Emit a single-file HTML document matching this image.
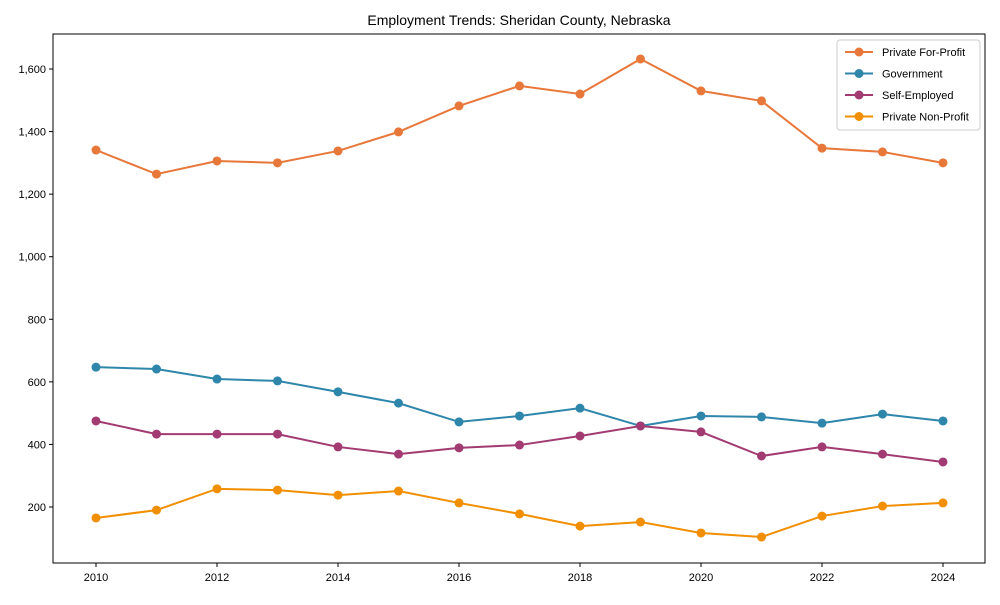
<!DOCTYPE html>
<html><head><meta charset="utf-8"><style>
body{margin:0;background:#fff;font-family:"Liberation Sans",Arial,sans-serif}
svg text{font-family:"Liberation Sans",Arial,sans-serif;fill:#000}
</style></head><body>
<svg id="chart" width="1000" height="600" xmlns="http://www.w3.org/2000/svg">
<text x="519" y="25" text-anchor="middle" font-size="14">Employment Trends: Sheridan County, Nebraska</text>
<rect x="53" y="34" width="932" height="529" fill="none" stroke="#000" stroke-width="1"/>
<g id="axes"></g><g id="series"></g><g id="legend"></g>
</svg>
<script>
const years=[2010,2011,2012,2013,2014,2015,2016,2017,2018,2019,2020,2021,2022,2023,2024];
const privateForProfit=[1341,1264,1306,1300,1338,1399,1482,1546,1520,1632,1530,1498,1347,1335,1300];
const government=[647,641,609,603,568,532,472,491,516,459,491,488,468,497,475];
const selfEmployed=[475,433,433,433,392,369,389,398,427,459,440,363,392,369,344];
const privateNonProfit=[165,190,258,254,238,251,213,178,139,152,117,104,171,203,213];
const yTicks=[200,400,600,800,1000,1200,1400,1600];
const xTicks=[2010,2012,2014,2016,2018,2020,2022,2024];
const seriesNames=["Private For-Profit","Government","Self-Employed","Private Non-Profit"];
const seriesColors=["#E8773A","#2E86AB","#A23B72","#F18F01"];
const NS="http://www.w3.org/2000/svg";
const xs=y=>96+(y-2010)*60.5;
const ys=v=>507-(v-200)*0.31286;
function mk(t,a,p){const e=document.createElementNS(NS,t);for(const k in a)e.setAttribute(k,a[k]);p.appendChild(e);return e;}
const ax=document.getElementById('axes');
yTicks.forEach(v=>{
 const l=mk('line',{x1:49,x2:53,y1:ys(v),y2:ys(v),stroke:'#000'},ax);
 
 
 const t=mk('text',{x:46,y:ys(v)+4,'text-anchor':'end','font-size':11},ax);
 t.textContent=v.toLocaleString('en-US');
 
 
});
xTicks.forEach(v=>{
 const l=mk('line',{x1:xs(v),x2:xs(v),y1:563,y2:567,stroke:'#000'},ax);
 
 
 const t=mk('text',{x:xs(v),y:581,'text-anchor':'middle','font-size':11},ax);
 t.textContent=v;
 
 
});
const sg=document.getElementById('series');
[privateForProfit,government,selfEmployed,privateNonProfit].forEach((d,i)=>{
 const p=mk('polyline',{points:d.map((v,j)=>xs(years[j])+','+ys(v)).join(' '),fill:'none',stroke:seriesColors[i],'stroke-width':2},sg);
 
 
 d.forEach((v,j)=>{
  const c=mk('circle',{cx:xs(years[j]),cy:ys(v),r:4.5,fill:seriesColors[i]},sg);
  
  
 });
});
const lg=document.getElementById('legend');
const box=mk('rect',{x:837,y:40,width:143,height:90,fill:'#fff',stroke:'#ccc',rx:3},lg);


seriesNames.forEach((n,i)=>{
 const y=52+i*21.5;
 const l=mk('line',{x1:845,x2:873,y1:y,y2:y,stroke:seriesColors[i],'stroke-width':2},lg);
 
 
 const c=mk('circle',{cx:859,cy:y,r:4.5,fill:seriesColors[i]},lg);
 
 
 const t=mk('text',{x:882,y:y+4,'font-size':11},lg);
 t.textContent=n;
 
 
});
</script>
</body></html>
